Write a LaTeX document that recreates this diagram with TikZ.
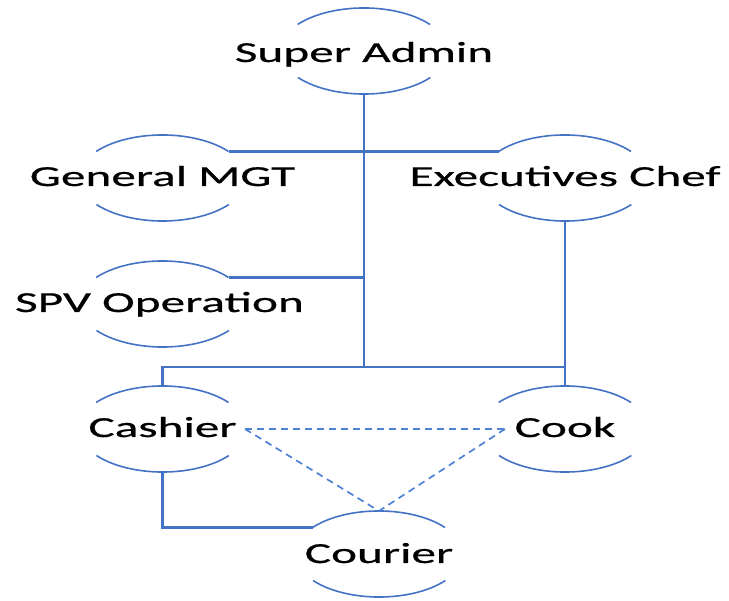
\documentclass[tikz,border=0pt]{standalone}
\usepackage{fontspec}
\newfontfamily\lblfont[FakeStretch=1.7,FakeBold=0.6]{Carlito}
\definecolor{umlblue}{HTML}{4472C4}
\definecolor{dashblue}{HTML}{4F81D6}

% A use case: label on its baseline plus the upper and lower arcs of the ellipse,
% with named points at the arc ends and at the top and bottom.
% Optional #1 is the drop of the baseline below the ellipse centre.
\newcommand\usecase[5][8]{%
  \node[lbl] (#2) at (#3,#4+#1) {#5};
  \path (#3,#4) ++(66,-26.5) coordinate (#2-tr) ++(-132,0) coordinate (#2-tl)
        (#3,#4) ++(66,26.5) coordinate (#2-br) ++(-132,0) coordinate (#2-bl)
        (#3,#4) ++(0,-43) coordinate (#2-t)
        (#3,#4) ++(0,43) coordinate (#2-b);
  \draw[arcline] (#2-tr) arc[start angle=38,end angle=142,x radius=84pt,y radius=43pt];
  \draw[arcline] (#2-bl) arc[start angle=218,end angle=322,x radius=84pt,y radius=43pt];
}

\begin{document}
\begin{tikzpicture}[x=1pt,y=-1pt,
  lbl/.style={font=\lblfont\fontsize{29}{34}\selectfont, inner sep=0pt, anchor=base, text=black},
  arcline/.style={draw=umlblue, line width=1.6pt},
  link/.style={draw=umlblue, line width=2.4pt},
  assoc/.style={draw=dashblue, line width=1.7pt, dash pattern=on 7pt off 5pt}]
\useasboundingbox (0,0) rectangle (729,601);

\usecase[11]{sa}{364}{51}{Super Admin}
\usecase{gm}{162.5}{178}{General MGT}
\usecase{ec}{565}{178}{Executives Chef}
\usecase{spv}{162.5}{304}{\hspace*{-6pt}SPV Operation}
\usecase{ca}{162.5}{429}{Cashier}
\usecase{co}{565}{429}{Cook}
\usecase[9]{cr}{379}{554}{Courier}

% bus and dashed-link end points
\coordinate (busL) at (162.5,367);
\coordinate (busR) at (565,367);
\coordinate (caR) at (245,429);
\coordinate (coL) at (505,429);

% solid hierarchy links
\draw[link] (sa-b) -- (sa-b |- busL);
\draw[link] (gm-tr) -- (ec-tl);
\draw[link] (spv-tr) -- (spv-tr -| sa-b);
\draw[link] (ec-b) -- (busR);
\draw[link] (ca-t) -- (busL) -- (busR) -- (co-t);
\draw[link] (ca-b) -- (ca-b |- cr-tl) -- (cr-tl);

% dashed associations
\draw[assoc] (caR) -- (coL);
\draw[assoc] (caR) -- (cr-t);
\draw[assoc] (coL) -- (cr-t);
\end{tikzpicture}
\end{document}
